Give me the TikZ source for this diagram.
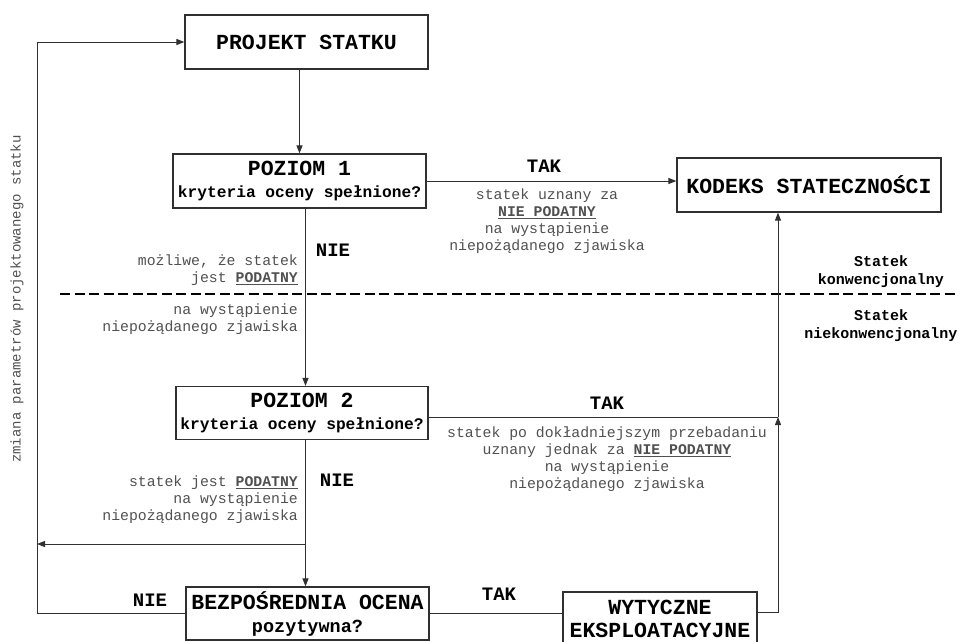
\documentclass[tikz,border=0pt]{standalone}
\usepackage{fontspec}
\setmainfont{Liberation Mono}
\usetikzlibrary{arrows.meta}
\definecolor{ln}{HTML}{303030}
\definecolor{tx}{HTML}{505050}
\tikzset{
  box/.style={draw=ln, line width=1.2pt, fill=white, inner sep=0pt, align=center},
  lbl/.style={font=\fontsize{19}{19}\selectfont\bfseries, inner sep=0pt},
  desc/.style={font=\fontsize{14.8}{17}\selectfont, text=tx, inner sep=0pt},
  side/.style={font=\fontsize{15}{18}\selectfont\bfseries, inner sep=0pt, align=center},
  conn/.style={draw=ln, line width=1pt},
  arr/.style={conn, -{Triangle[length=8pt,width=6pt]}},
  dline/.style={draw=black, line width=2pt, dash pattern=on 10pt off 4.5pt},
}
\newcommand{\ulb}[1]{\underline{\textbf{#1}}}
\newcommand{\smb}{\fontsize{16.2}{22}\selectfont\bfseries}
\begin{document}
\begin{tikzpicture}[x=1pt,y=-1pt]
\useasboundingbox (0,0) rectangle (959,641);
\clip (0,0) rectangle (959,641);

% boxes
\node[box, font=\fontsize{21.5}{22}\selectfont\bfseries, minimum width=243pt, minimum height=54pt] (proj) at (306.5,42) {PROJEKT STATKU};
\node[box, font=\fontsize{21.5}{22}\selectfont\bfseries, minimum width=253pt, minimum height=54pt] (p1) at (299.5,181)
  {POZIOM 1\\\smb kryteria oceny spełnione?};
\node[box, font=\fontsize{21.5}{22}\selectfont\bfseries, minimum width=264pt, minimum height=54pt] (kod) at (809,185) {KODEKS STATECZNOŚCI};
\node[box, font=\fontsize{21.5}{22}\selectfont\bfseries, minimum width=252pt, minimum height=53pt] (p2) at (302,413)
  {POZIOM 2\\\smb kryteria oceny spełnione?};
\node[box, font=\fontsize{21.5}{23}\selectfont\bfseries, minimum width=243pt, minimum height=53pt] (bz) at (307.5,613.5)
  {BEZPOŚREDNIA OCENA\\\fontsize{18.5}{23}\selectfont\bfseries pozytywna?};
\node[box, font=\fontsize{21.5}{23}\selectfont\bfseries, minimum width=194pt, minimum height=54pt] (w) at (660,619)
  {WYTYCZNE\\EKSPLOATACYJNE};

% helper coordinates
\coordinate (vx) at (305.5,0);
\coordinate (lx) at (37,0);
\coordinate (j) at (778,417);
\coordinate (br) at (305.5,544);
\coordinate (wy) at (0,612);
\coordinate (dl) at (60,294);
\coordinate (dr) at (959,294);

% dashed separator
\draw[dline] (dl) -- (dr);

% connectors
\draw[arr] (proj.south -| p1.north) -- (p1.north);
\draw[arr] (p1.east) -- (p1.east -| kod.west);
\draw[arr] (p1.south -| vx) -- (p2.north -| vx);
\draw[conn] (p2.east |- j) -- (j);
\draw[arr] (j) -- (kod.south -| j);
\draw[arr] (w.east |- wy) -- (wy -| j) -- (j);
\draw[arr] (p2.south -| vx) -- (bz.north -| vx);
\draw[arr] (br) -- (br -| lx);
\draw[arr] (bz.west) -- (bz.west -| lx) -- (proj.west -| lx) -- (proj.west);
\draw[conn] (bz.east) -- (bz.east -| w.west);

% labels
\node[lbl] (tak1) at (544,166) {TAK};
\node[lbl] (nie1) at (333,250) {NIE};
\node[lbl] (tak2) at (607,403) {TAK};
\node[lbl] (nie2) at (337,480) {NIE};
\node[lbl] (nie3) at (150,600) {NIE};
\node[lbl] (tak3) at (499,594) {TAK};

\node[desc, align=right, anchor=east] (d1) at (298,270) {możliwe, że statek\\jest \ulb{PODATNY}};
\node[desc, align=right, anchor=east] (d2) at (298,319) {na wystąpienie\\niepożądanego zjawiska};
\node[desc, align=center] (d3) at (547,221) {statek uznany za\\\ulb{NIE PODATNY}\\na wystąpienie\\niepożądanego zjawiska};
\node[desc, align=center] (d4) at (607,459) {statek po dokładniejszym przebadaniu\\uznany jednak za \ulb{NIE PODATNY}\\na wystąpienie\\niepożądanego zjawiska};
\node[desc, align=right, anchor=east] (d5) at (298,500) {statek jest \ulb{PODATNY}\\na wystąpienie\\niepożądanego zjawiska};

\node[side] (s1) at (881,272) {Statek\\konwencjonalny};
\node[side] (s2) at (881,326) {Statek\\niekonwencjonalny};

\node[desc, font=\fontsize{14}{17}\selectfont, rotate=90] (rot) at (17,299) {zmiana parametrów projektowanego statku};
\end{tikzpicture}
\end{document}
